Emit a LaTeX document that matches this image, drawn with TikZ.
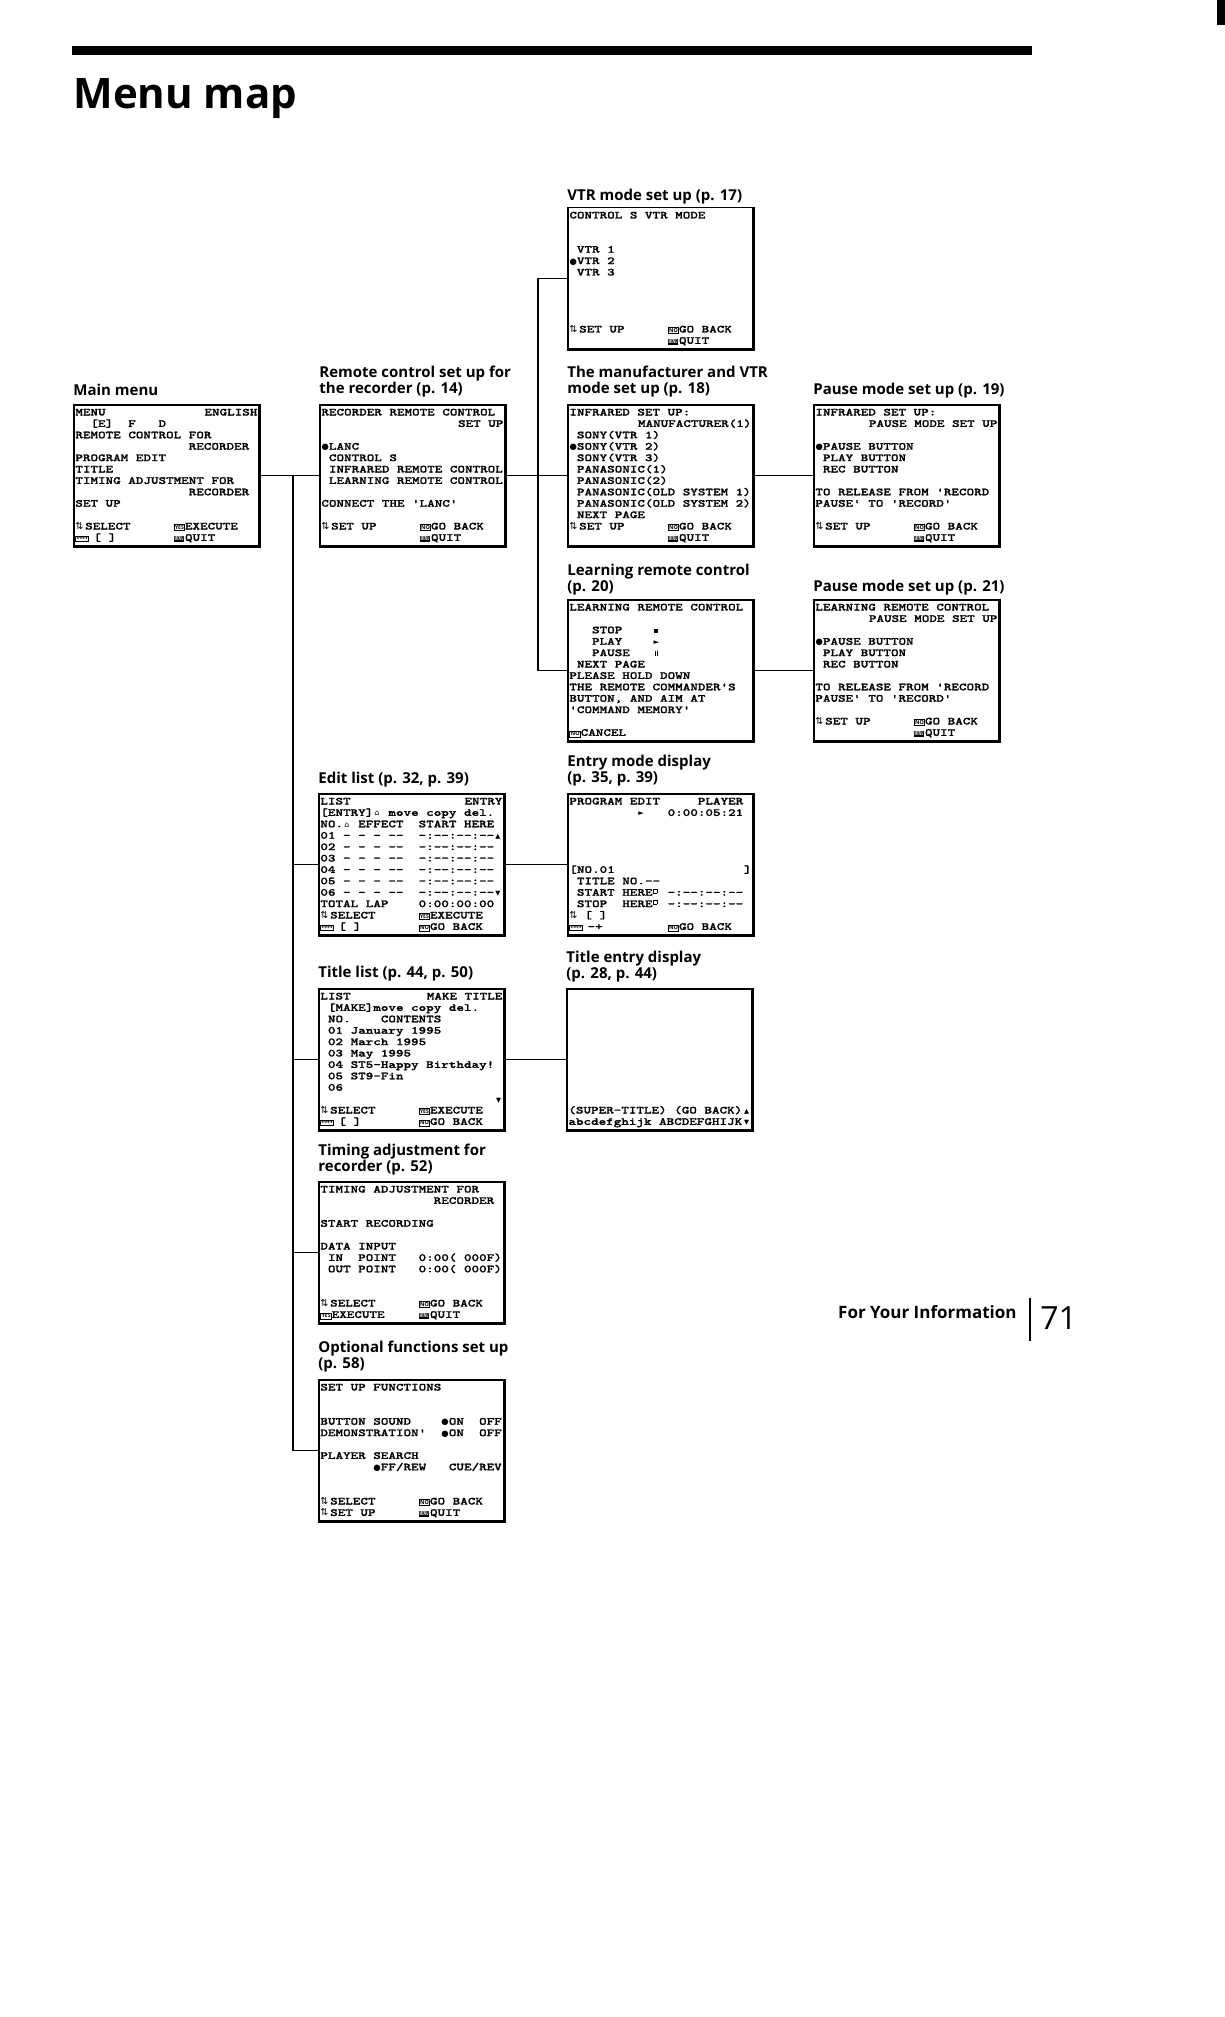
\documentclass[tikz,border=0pt]{standalone}
\usepackage{fontspec}
\usepackage{graphicx}
\newfontfamily\scrfont{lmmonolt10-bold.otf}[FakeStretch=1.333,FakeBold=1.2,Ligatures=TeXOff]
\newfontfamily\djv{DejaVu Sans}
\newfontfamily\hdf{Open Sans}
\newlength\pch
\settowidth\pch{\scrfont\fontsize{5.4pt}{5.7pt}\selectfont M}
\newcommand\scrn[1]{\vtop{\hsize=91pt\scrfont\fontsize{5.4pt}{5.7pt}\selectfont\baselineskip=5.7pt\lineskiplimit=-20pt\spaceskip=\pch\xspaceskip=\pch\parindent=0pt #1}}
\newcommand\rowl[1]{\hbox to\hsize{#1\hfil}}
\newcommand\cola[2]{\makebox[#1\pch][l]{#2}}
\newcommand\udk{\makebox[1.3\pch][l]{\djv\fontsize{4.8pt}{4.8pt}\selectfont ⇅}}
\newcommand\lrk{\makebox[2.4\pch][l]{\fboxsep=0.2pt\fboxrule=0.35pt\fbox{\djv\fontsize{3.4pt}{3.4pt}\selectfont ↔↔}}}
\newcommand\kic[1]{\makebox[1.5\pch][l]{\fboxsep=0.3pt\fboxrule=0.4pt\fbox{\resizebox{4.4pt}{2pt}{\hdf\bfseries #1}}}}
\newcommand\kim{\makebox[1.5\pch][l]{\fboxsep=0.5pt\colorbox{black}{\resizebox{4.4pt}{2pt}{\color{white}\hdf\bfseries MENU}}}}
\newcommand\bul{\makebox[\pch][c]{\djv\fontsize{4.2pt}{4.2pt}\selectfont ●}}
\newcommand\upa{\makebox[\pch][c]{\djv\fontsize{3.3pt}{3.3pt}\selectfont ▲}}
\newcommand\dna{\makebox[\pch][c]{\djv\fontsize{3.3pt}{3.3pt}\selectfont ▼}}
\newcommand\ply{\makebox[\pch][c]{\djv\fontsize{3.6pt}{3.6pt}\selectfont ►}}
\newcommand\stp{\makebox[\pch][c]{\rule{2pt}{2pt}}}
\newcommand\pse{\makebox[\pch][c]{\rule{0.5pt}{2.4pt}\hspace{0.5pt}\rule{0.5pt}{2.4pt}}}
\newcommand\sqb{\makebox[\pch][l]{\raisebox{1.5pt}{\fboxsep=0pt\fboxrule=0.3pt\fbox{\rule{0pt}{1.7pt}\hspace{1.7pt}}}}}
\newcommand\hut{\makebox[\pch][c]{\djv\fontsize{3.8pt}{3.8pt}\selectfont ⌂}}
\begin{document}
\begin{tikzpicture}[x=0.5pt,y=-0.5pt,
  screen/.style={draw, line width=0.75pt, minimum width=92.5pt, minimum height=70.5pt, inner sep=0pt, anchor=north west},
  scrtxt/.style={inner sep=0pt, anchor=base west},
  hd/.style={inner sep=0pt, anchor=base west, font=\hdf\bfseries\fontsize{7.5pt}{8.35pt}\selectfont},
  conn/.style={line width=0.55pt},
  heavy/.style={line width=1.4pt}]
\fill[white] (0,0) rectangle (1225,2017);
\useasboundingbox (0,0) rectangle (1225,2017);
% page decorations
\fill (72,46) rectangle (1032,55);
\fill (1217,0) rectangle (1225,25);
\node[inner sep=0pt, anchor=base west, font=\hdf\bfseries\fontsize{21pt}{21pt}\selectfont] (title) at (73,109) {Menu map};
\node[inner sep=0pt, anchor=base east, font=\hdf\bfseries\fontsize{8.5pt}{8.5pt}\selectfont] (fyi) at (1017,1318) {For Your Information};
\draw[line width=0.6pt] (1030,1298) -- (1030,1341);
\node[inner sep=0pt, anchor=base west, font=\hdf\fontsize{16pt}{16pt}\selectfont] (pg) at (1040,1329) {71};

% headings
\node[hd] (h-main) at (73,395) {Main menu};
\node[hd] (h-remote) at (319,377) {\vtop{\hbox{Remote control set up for}\hbox{the recorder (p. 14)}}};
\node[hd] (h-vtr) at (567,201) {VTR mode set up (p. 17)};
\node[hd] (h-manuf) at (567,377) {\vtop{\hbox{The manufacturer and VTR}\hbox{mode set up (p. 18)}}};
\node[hd] (h-pause1) at (813,394) {Pause mode set up (p. 19)};
\node[hd] (h-learn) at (567,575) {\vtop{\hbox{Learning remote control}\hbox{(p. 20)}}};
\node[hd] (h-pause2) at (813,591) {Pause mode set up (p. 21)};
\node[hd] (h-edit) at (318,783) {Edit list (p. 32, p. 39)};
\node[hd] (h-entry) at (567,766) {\vtop{\hbox{Entry mode display}\hbox{(p. 35, p. 39)}}};
\node[hd] (h-tlist) at (318,977) {Title list (p. 44, p. 50)};
\node[hd] (h-tentry) at (566,962) {\vtop{\hbox{Title entry display}\hbox{(p. 28, p. 44)}}};
\node[hd] (h-timing) at (318,1155) {\vtop{\hbox{Timing adjustment for}\hbox{recorder (p. 52)}}};
\node[hd] (h-optf) at (318,1352) {\vtop{\hbox{Optional functions set up}\hbox{(p. 58)}}};

% screens
\node[screen] (main) at (73,404) {};
\node[screen] (remote) at (319,404) {};
\node[screen] (vtr) at (567,207) {};
\node[screen] (manuf) at (567,404) {};
\node[screen] (pause1) at (813,404) {};
\node[screen] (learn) at (567,599) {};
\node[screen] (pause2) at (813,599) {};
\node[screen] (edit) at (318,793) {};
\node[screen] (entry) at (567,793) {};
\node[screen] (tlist) at (318,988) {};
\node[screen] (tentry) at (566,988) {};
\node[screen] (timing) at (318,1181) {};
\node[screen] (optf) at (318,1379) {};
\foreach \n in {main,remote,vtr,manuf,pause1,learn,pause2,edit,entry,tlist,tentry,timing,optf}
  \draw[heavy] (\n.north east) -- (\n.south east) -- (\n.south west);

% screen texts
\node[scrtxt] (main-t) at (75,415.5) {\scrn{%
\rowl{MENU\hfill ENGLISH}%
\rowl{~~[E]~~F~~~D}%
\rowl{REMOTE CONTROL FOR}%
\rowl{~~~~~~~~~~~~~~~RECORDER}%
\rowl{PROGRAM EDIT}%
\rowl{TITLE}%
\rowl{TIMING ADJUSTMENT FOR}%
\rowl{~~~~~~~~~~~~~~~RECORDER}%
\rowl{SET UP}%
\rowl{}%
\rowl{\cola{13}{\udk SELECT}\kic{YES}EXECUTE}%
\rowl{\cola{13}{\lrk[~]}\kim QUIT}}};

\node[scrtxt] (remote-t) at (321,415.5) {\scrn{%
\rowl{RECORDER REMOTE CONTROL}%
\rowl{\hfill SET UP}%
\rowl{}%
\rowl{\bul LANC}%
\rowl{~CONTROL S}%
\rowl{~INFRARED REMOTE CONTROL}%
\rowl{~LEARNING REMOTE CONTROL}%
\rowl{}%
\rowl{CONNECT THE 'LANC'}%
\rowl{}%
\rowl{\cola{13}{\udk SET UP}\kic{NO}GO BACK}%
\rowl{\cola{13}{}\kim QUIT}}};

\node[scrtxt] (vtr-t) at (569,218.5) {\scrn{%
\rowl{CONTROL S VTR MODE}%
\rowl{}\rowl{}%
\rowl{~VTR 1}%
\rowl{\bul VTR 2}%
\rowl{~VTR 3}%
\rowl{}\rowl{}\rowl{}\rowl{}%
\rowl{\cola{13}{\udk SET UP}\kic{NO}GO BACK}%
\rowl{\cola{13}{}\kim QUIT}}};

\node[scrtxt] (manuf-t) at (569,415.5) {\scrn{%
\rowl{INFRARED SET UP:}%
\rowl{\hfill MANUFACTURER(1)}%
\rowl{~SONY(VTR 1)}%
\rowl{\bul SONY(VTR 2)}%
\rowl{~SONY(VTR 3)}%
\rowl{~PANASONIC(1)}%
\rowl{~PANASONIC(2)}%
\rowl{~PANASONIC(OLD SYSTEM 1)}%
\rowl{~PANASONIC(OLD SYSTEM 2)}%
\rowl{~NEXT PAGE}%
\rowl{\cola{13}{\udk SET UP}\kic{NO}GO BACK}%
\rowl{\cola{13}{}\kim QUIT}}};

\node[scrtxt] (pause1-t) at (815,415.5) {\scrn{%
\rowl{INFRARED SET UP:}%
\rowl{\hfill PAUSE MODE SET UP}%
\rowl{}%
\rowl{\bul PAUSE BUTTON}%
\rowl{~PLAY BUTTON}%
\rowl{~REC BUTTON}%
\rowl{}%
\rowl{TO RELEASE FROM 'RECORD}%
\rowl{PAUSE' TO 'RECORD'}%
\rowl{}%
\rowl{\cola{13}{\udk SET UP}\kic{NO}GO BACK}%
\rowl{\cola{13}{}\kim QUIT}}};

\node[scrtxt] (learn-t) at (569,610.5) {\scrn{%
\rowl{LEARNING REMOTE CONTROL}%
\rowl{}%
\rowl{~~~STOP~~~~\stp}%
\rowl{~~~PLAY~~~~\ply}%
\rowl{~~~PAUSE~~~\pse}%
\rowl{~NEXT PAGE}%
\rowl{PLEASE HOLD DOWN}%
\rowl{THE REMOTE COMMANDER'S}%
\rowl{BUTTON, AND AIM AT}%
\rowl{'COMMAND MEMORY'}%
\rowl{}%
\rowl{\kic{NO}CANCEL}}};

\node[scrtxt] (pause2-t) at (815,610.5) {\scrn{%
\rowl{LEARNING REMOTE CONTROL}%
\rowl{\hfill PAUSE MODE SET UP}%
\rowl{}%
\rowl{\bul PAUSE BUTTON}%
\rowl{~PLAY BUTTON}%
\rowl{~REC BUTTON}%
\rowl{}%
\rowl{TO RELEASE FROM 'RECORD}%
\rowl{PAUSE' TO 'RECORD'}%
\rowl{}%
\rowl{\cola{13}{\udk SET UP}\kic{NO}GO BACK}%
\rowl{\cola{13}{}\kim QUIT}}};

\node[scrtxt] (edit-t) at (320,804.5) {\scrn{%
\rowl{LIST\hfill ENTRY}%
\rowl{[ENTRY]\hut~move copy del.}%
\rowl{NO.\hut~EFFECT~~START~HERE}%
\rowl{01~-~-~-~--~~-:--:--:--\upa}%
\rowl{02~-~-~-~--~~-:--:--:--}%
\rowl{03~-~-~-~--~~-:--:--:--}%
\rowl{04~-~-~-~--~~-:--:--:--}%
\rowl{05~-~-~-~--~~-:--:--:--}%
\rowl{06~-~-~-~--~~-:--:--:--\dna}%
\rowl{TOTAL~LAP~~~~0:00:00:00}%
\rowl{\cola{13}{\udk SELECT}\kic{YES}EXECUTE}%
\rowl{\cola{13}{\lrk[~]}\kic{NO}GO BACK}}};

\node[scrtxt] (entry-t) at (569,804.5) {\scrn{%
\rowl{PROGRAM~EDIT~~~~~PLAYER}%
\rowl{~~~~~~~~~\ply~~~0:00:05:21}%
\rowl{}\rowl{}\rowl{}\rowl{}%
\rowl{[NO.01\hfill]}%
\rowl{~TITLE~NO.--}%
\rowl{~START~HERE\sqb~-:--:--:--}%
\rowl{~STOP~~HERE\sqb~-:--:--:--}%
\rowl{\cola{2}{\udk}[~]}%
\rowl{\cola{13}{\lrk-+}\kic{NO}GO BACK}}};

\node[scrtxt] (tlist-t) at (320,999.5) {\scrn{%
\rowl{LIST\hfill MAKE TITLE}%
\rowl{~[MAKE]move copy del.}%
\rowl{~NO.~~~~CONTENTS}%
\rowl{~01 January 1995}%
\rowl{~02 March 1995}%
\rowl{~03 May 1995}%
\rowl{~04 ST5-Happy Birthday!}%
\rowl{~05 ST9-Fin}%
\rowl{~06}%
\rowl{\hfill\dna}%
\rowl{\cola{13}{\udk SELECT}\kic{YES}EXECUTE}%
\rowl{\cola{13}{\lrk[~]}\kic{NO}GO BACK}}};

\node[scrtxt] (tentry-t) at (568,999.5) {\scrn{%
\rowl{}\rowl{}\rowl{}\rowl{}\rowl{}%
\rowl{}\rowl{}\rowl{}\rowl{}\rowl{}%
\rowl{(SUPER-TITLE)~(GO~BACK)\hfill\upa}%
\rowl{abcdefghijk~ABCDEFGHIJK\hfill\dna}}};

\node[scrtxt] (timing-t) at (320,1192.5) {\scrn{%
\rowl{TIMING ADJUSTMENT FOR}%
\rowl{~~~~~~~~~~~~~~~RECORDER}%
\rowl{}%
\rowl{START RECORDING}%
\rowl{}%
\rowl{DATA INPUT}%
\rowl{~IN~~POINT~~~0:00(~000F)}%
\rowl{~OUT~POINT~~~0:00(~000F)}%
\rowl{}\rowl{}%
\rowl{\cola{13}{\udk SELECT}\kic{NO}GO BACK}%
\rowl{\cola{13}{\kic{YES}EXECUTE}\kim QUIT}}};

\node[scrtxt] (optf-t) at (320,1390.5) {\scrn{%
\rowl{SET UP FUNCTIONS}%
\rowl{}\rowl{}%
\rowl{BUTTON~SOUND~~~~\bul ON~~OFF}%
\rowl{DEMONSTRATION'~~\bul ON~~OFF}%
\rowl{}%
\rowl{PLAYER SEARCH}%
\rowl{~~~~~~~\bul FF/REW~~~CUE/REV}%
\rowl{}\rowl{}%
\rowl{\cola{13}{\udk SELECT}\kic{NO}GO BACK}%
\rowl{\cola{13}{\udk SET UP}\kim QUIT}}};

% connectors
\coordinate (tr) at (293,474.5);
\coordinate (tr2) at (538,474.5);
\draw[conn] (main.east) -- (remote.west);
\draw[conn] (tr) |- (edit.west);
\draw[conn] (tr) |- (tlist.west);
\draw[conn] (tr) |- (timing.west);
\draw[conn] (tr) |- (optf.west);
\draw[conn] (remote.east) -- (manuf.west);
\draw[conn] (tr2) |- (vtr.west);
\draw[conn] (tr2) |- (learn.west);
\draw[conn] (manuf.east) -- (pause1.west);
\draw[conn] (learn.east) -- (pause2.west);
\draw[conn] (edit.east) -- (entry.west);
\draw[conn] (tlist.east) -- (tentry.west);
\end{tikzpicture}
\end{document}
